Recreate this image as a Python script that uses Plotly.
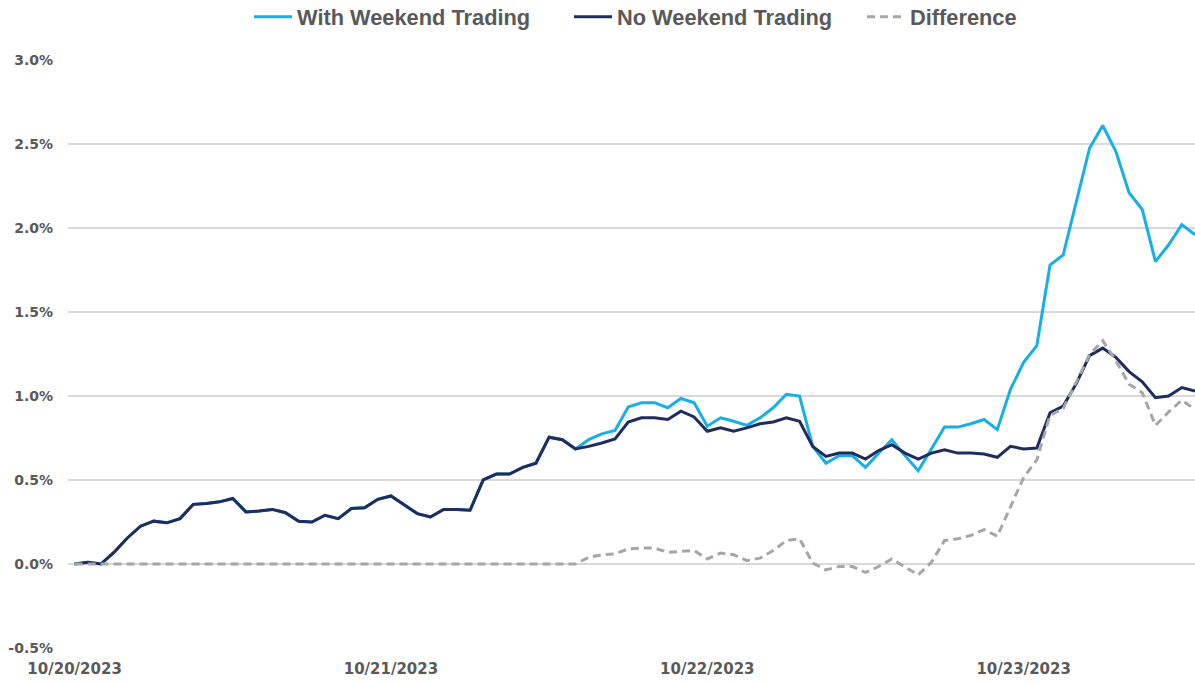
import plotly.graph_objects as go
import pandas as pd

# hourly observations starting 10/20/2023 00:00
start = "2023-10-20 00:00"
n_points = 86

no_weekend = [
    0.00, 0.01, 0.00, 0.07, 0.155, 0.225, 0.255, 0.245, 0.27, 0.355,
    0.36, 0.37, 0.39, 0.31, 0.315, 0.325, 0.305, 0.255, 0.25, 0.29,
    0.27, 0.33, 0.335, 0.385, 0.405, 0.35, 0.30, 0.28, 0.325, 0.325,
    0.32, 0.50, 0.535, 0.535, 0.575, 0.60, 0.755, 0.74, 0.685, 0.70,
    0.72, 0.745, 0.845, 0.87, 0.87, 0.86, 0.91, 0.875, 0.79, 0.81,
    0.79, 0.81, 0.835, 0.845, 0.87, 0.85, 0.70, 0.64, 0.66, 0.66,
    0.625, 0.675, 0.71, 0.66, 0.625, 0.66, 0.68, 0.66, 0.66, 0.655,
    0.635, 0.70, 0.685, 0.69, 0.90, 0.94, 1.075, 1.24, 1.285, 1.23,
    1.145, 1.085, 0.99, 1.00, 1.05, 1.03,
]

with_weekend = [
    0.00, 0.01, 0.00, 0.07, 0.155, 0.225, 0.255, 0.245, 0.27, 0.355,
    0.36, 0.37, 0.39, 0.31, 0.315, 0.325, 0.305, 0.255, 0.25, 0.29,
    0.27, 0.33, 0.335, 0.385, 0.405, 0.35, 0.30, 0.28, 0.325, 0.325,
    0.32, 0.50, 0.535, 0.535, 0.575, 0.60, 0.755, 0.74, 0.685, 0.74,
    0.775, 0.795, 0.935, 0.96, 0.96, 0.93, 0.985, 0.96, 0.82, 0.87,
    0.85, 0.825, 0.87, 0.93, 1.01, 1.00, 0.70, 0.60, 0.645, 0.645,
    0.575, 0.66, 0.74, 0.645, 0.555, 0.685, 0.815, 0.815, 0.835, 0.86,
    0.80, 1.04, 1.20, 1.30, 1.78, 1.84, 2.165, 2.475, 2.61, 2.455,
    2.21, 2.11, 1.80, 1.90, 2.02, 1.96,
]

difference = [
    0.00, 0.00, 0.00, 0.00, 0.00, 0.00, 0.00, 0.00, 0.00, 0.00,
    0.00, 0.00, 0.00, 0.00, 0.00, 0.00, 0.00, 0.00, 0.00, 0.00,
    0.00, 0.00, 0.00, 0.00, 0.00, 0.00, 0.00, 0.00, 0.00, 0.00,
    0.00, 0.00, 0.00, 0.00, 0.00, 0.00, 0.00, 0.00, 0.00, 0.04,
    0.055, 0.06, 0.09, 0.095, 0.095, 0.07, 0.075, 0.08, 0.03, 0.065,
    0.055, 0.02, 0.035, 0.08, 0.14, 0.15, 0.005, -0.035, -0.015, -0.015,
    -0.05, -0.015, 0.03, -0.015, -0.065, 0.01, 0.14, 0.15, 0.17, 0.205,
    0.165, 0.34, 0.515, 0.62, 0.885, 0.925, 1.085, 1.245, 1.33, 1.21,
    1.07, 1.02, 0.825, 0.905, 0.975, 0.92,
]

x_tick_vals = ["2023-10-20 00:00", "2023-10-21 00:00", "2023-10-22 00:00", "2023-10-23 00:00"]
x_tick_text = ["10/20/2023", "10/21/2023", "10/22/2023", "10/23/2023"]
y_tick_vals = [-0.5, 0.0, 0.5, 1.0, 1.5, 2.0, 2.5, 3.0]
y_tick_text = ["-0.5%", "0.0%", "0.5%", "1.0%", "1.5%", "2.0%", "2.5%", "3.0%"]

times = pd.date_range(start, periods=n_points, freq="h")

C_WITH = "#17AEEA"
C_NO = "#1E2D5E"
C_DIFF = "#A6A6A6"
TXT = "#595959"

W, H = 1195, 683

fig = go.Figure()
fig.add_trace(go.Scatter(x=times, y=with_weekend, mode="lines", name="With Weekend Trading",
                         line=dict(color=C_WITH, width=3), legend="legend"))
fig.add_trace(go.Scatter(x=times, y=no_weekend, mode="lines", name="No Weekend Trading",
                         line=dict(color=C_NO, width=3), legend="legend2"))
fig.add_trace(go.Scatter(x=times, y=difference, mode="lines", name="Difference",
                         line=dict(color=C_DIFF, width=3, dash="8px,5px"), legend="legend3"))

legend_font = dict(family="Liberation Sans", size=21.8, color=TXT, weight="bold")
common_leg = dict(orientation="h", xref="container", yref="container", yanchor="middle",
                  xanchor="left", font=legend_font, bgcolor="rgba(0,0,0,0)", itemwidth=38)

x0 = times[0] - pd.Timedelta(minutes=30)
x1 = times[-1]

leg_y = 1 - 17 / H

fig.update_layout(
    width=W, height=H,
    margin=dict(l=68, r=0, t=60, b=35),
    paper_bgcolor="white", plot_bgcolor="white",
    showlegend=True,
    legend=dict(common_leg, x=249 / W, y=leg_y),
    legend2=dict(common_leg, x=569 / W, y=leg_y),
    legend3=dict(common_leg, x=862 / W, y=leg_y),
    xaxis=dict(
        range=[x0, x1], showgrid=False, zeroline=False, showline=False,
        tickmode="array", tickvals=x_tick_vals, ticktext=x_tick_text,
        tickfont=dict(family="DejaVu Sans", size=15, color=TXT, weight="bold"),
        ticks="", ticklabelstandoff=10,
    ),
    yaxis=dict(
        range=[-0.5, 3.0], showgrid=True, gridcolor="#D9D9D9", gridwidth=1.5,
        zeroline=False, showline=False,
        tickmode="array", tickvals=y_tick_vals, ticktext=y_tick_text,
        tickfont=dict(family="DejaVu Sans", size=14, color=TXT, weight="bold"),
        ticks="", ticklabelstandoff=14,
    ),
)

# remove the browser's default 8px body margin so the figure fills the window exactly
fig.write_html("out.html", config={"displayModeBar": False},
               post_script="document.body.style.margin='0';")
